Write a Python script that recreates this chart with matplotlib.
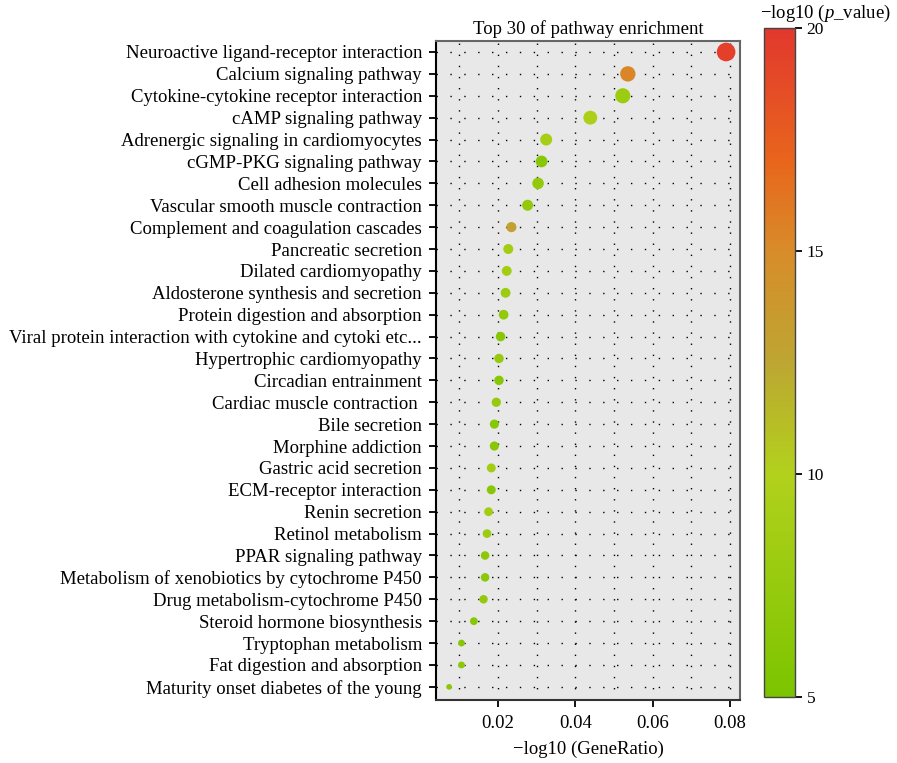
import numpy as np
import matplotlib as mpl
mpl.use('Agg')
from matplotlib import pyplot as plt
from matplotlib.colors import LinearSegmentedColormap, Normalize

plt.rcParams['font.family'] = ['Liberation Serif', 'DejaVu Serif']
plt.rcParams['mathtext.fontset'] = 'custom'
plt.rcParams['mathtext.it'] = 'Liberation Serif:italic'
plt.rcParams['mathtext.rm'] = 'Liberation Serif'

FS = 13.5

# pathways, top to bottom
pathways = [
    "Neuroactive ligand-receptor interaction",
    "Calcium signaling pathway",
    "Cytokine-cytokine receptor interaction",
    "cAMP signaling pathway",
    "Adrenergic signaling in cardiomyocytes",
    "cGMP-PKG signaling pathway",
    "Cell adhesion molecules",
    "Vascular smooth muscle contraction",
    "Complement and coagulation cascades",
    "Pancreatic secretion",
    "Dilated cardiomyopathy",
    "Aldosterone synthesis and secretion",
    "Protein digestion and absorption",
    "Viral protein interaction with cytokine and cytoki etc...",
    "Hypertrophic cardiomyopathy",
    "Circadian entrainment",
    "Cardiac muscle contraction ",
    "Bile secretion",
    "Morphine addiction",
    "Gastric acid secretion",
    "ECM-receptor interaction",
    "Renin secretion",
    "Retinol metabolism",
    "PPAR signaling pathway",
    "Metabolism of xenobiotics by cytochrome P450",
    "Drug metabolism-cytochrome P450",
    "Steroid hormone biosynthesis",
    "Tryptophan metabolism",
    "Fat digestion and absorption",
    "Maturity onset diabetes of the young",
]
gene_ratio = [0.0790, 0.0536, 0.0523, 0.0439, 0.0325, 0.0313, 0.0304, 0.0277,
              0.0235, 0.0227, 0.0223, 0.0220, 0.0215, 0.0207, 0.0203, 0.0203,
              0.0196, 0.0191, 0.0191, 0.0183, 0.0183, 0.0176, 0.0172, 0.0167,
              0.0167, 0.0163, 0.0138, 0.0106, 0.0106, 0.0074]
neg_log_p = [19.5, 15.3, 8.0, 9.5, 9.0, 6.0, 7.0, 7.0,
             13.0, 8.5, 8.5, 8.0, 7.0, 6.0, 7.5, 6.0,
             7.5, 6.0, 6.0, 8.5, 6.0, 8.5, 8.0, 6.5,
             6.5, 7.0, 6.0, 6.0, 6.5, 6.5]

cmap = LinearSegmentedColormap.from_list('gr', [
    (0.0, '#7cc400'),
    (0.333, '#b2d11c'),
    (0.5, '#bda632'),
    (0.667, '#d88c2a'),
    (0.8, '#e8661c'),
    (1.0, '#e2382e'),
])
norm = Normalize(vmin=5, vmax=20)

fig = plt.figure(figsize=(8.97, 7.63), dpi=100)
ax = fig.add_axes([0.486, 0.0826, 0.339, 0.8636])
ax.set_facecolor('#e8e8e8')

n = len(pathways)
ypos = np.arange(n)[::-1]
sizes = np.array(gene_ratio) * 2280
sc = ax.scatter(gene_ratio, ypos, s=sizes, c=neg_log_p, cmap=cmap, norm=norm,
                linewidths=0, zorder=3)

ax.set_yticks(ypos)
ax.set_yticklabels(pathways, fontsize=FS)
ax.set_ylim(-0.6, n - 0.5)
ax.set_xlim(0.004, 0.0826)
ax.set_xticks([0.02, 0.04, 0.06, 0.08])
ax.set_xticklabels(['0.02', '0.04', '0.06', '0.08'], fontsize=FS)
ax.set_xticks(np.arange(0.01, 0.081, 0.01), minor=True)
ax.tick_params(axis='x', which='minor', length=0)
ax.tick_params(axis='both', which='major', length=5, width=1.3, color='black')
ax.tick_params(axis='y', pad=5)
ax.tick_params(axis='x', pad=6)

# dotted grid: rows at each pathway, columns every 0.01
ax.grid(True, axis='y', which='major', color='black', linestyle=(0, (1, 9)), linewidth=1)
ax.grid(True, axis='x', which='both', color='black', linestyle=(0, (1, 7)), linewidth=1)
ax.set_axisbelow(True)

for side, sp in ax.spines.items():
    sp.set_color('#666666')
    sp.set_linewidth(1.5)
ax.spines['left'].set_color('black')
ax.spines['bottom'].set_color('#333333')

ax.set_title('Top 30 of pathway enrichment', fontsize=FS, pad=5)
ax.set_xlabel('\u2212log10 (GeneRatio)', fontsize=FS, labelpad=6)

cax = fig.add_axes([0.852, 0.0865, 0.034, 0.8765])
cb = fig.colorbar(sc, cax=cax)
cb.set_ticks([5, 10, 15, 20])
cb.ax.tick_params(labelsize=12.5, length=5, width=1.3)
cb.outline.set_edgecolor('#444444')
cb.outline.set_linewidth(1)
fig.text(0.847, 1 - 13 / 763, '\u2212log10 ($p$_value)', fontsize=FS,
         ha='left', va='center')

fig.savefig('out.png', dpi=100)
plt.close(fig)
